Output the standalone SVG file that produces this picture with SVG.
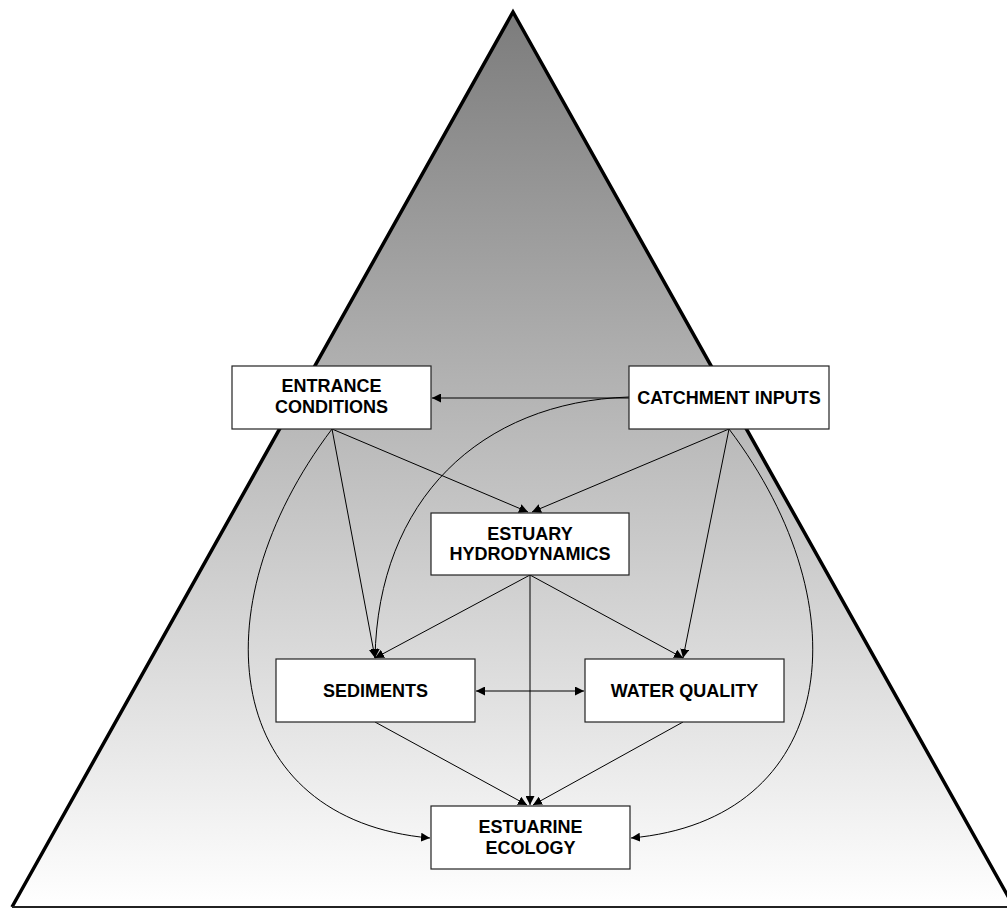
<svg xmlns="http://www.w3.org/2000/svg" width="1007" height="909" viewBox="0 0 1007 909">
<defs>
<linearGradient id="bg" x1="0" y1="12" x2="0" y2="907" gradientUnits="userSpaceOnUse">
<stop offset="0" stop-color="#7c7c7c"/>
<stop offset="1" stop-color="#ffffff"/>
</linearGradient>
<marker id="ah" viewBox="0 0 10 10" refX="10" refY="5" markerWidth="9" markerHeight="9" markerUnits="userSpaceOnUse" orient="auto-start-reverse">
<path d="M0,0 L10,5 L0,10 z" fill="#000"/>
</marker>
<style>
.box{fill:#fff;stroke:#222;stroke-width:1.2}
.lbl{font-family:"Liberation Sans",Arial,sans-serif;font-weight:bold;font-size:18px;fill:#000;text-anchor:middle}
.c{fill:none;stroke:#000;stroke-width:1;marker-end:url(#ah)}
</style>
</defs>
<rect width="1007" height="909" fill="#fff"/>
<g id="triangle">
<polygon points="513,12 12,907 1014,907" fill="url(#bg)"/>
<polyline points="12,907 513,12 1014,907" fill="none" stroke="#000" stroke-width="3.5" stroke-linejoin="miter"/>
<line x1="12" y1="907" x2="1007" y2="907" stroke="#222" stroke-width="2"/>
</g>
<g id="connectors">
<path class="c" d="M629,398 L432,398"/>
<path class="c" d="M629,397 C480,402 378,500 375,658"/>
<path class="c" d="M332,429 L528,512"/>
<path class="c" d="M332,429 L375,658"/>
<path class="c" d="M332,429 C195,610 225,820 430,838"/>
<path class="c" d="M729,429 L532,512"/>
<path class="c" d="M729,429 L683,658"/>
<path class="c" d="M729,429 C866,610 836,820 631,838"/>
<path class="c" d="M530,575 L375,658"/>
<path class="c" d="M530,575 L683,658"/>
<path class="c" d="M530,575 L530,805"/>
<path class="c" d="M375,722 L527,805"/>
<path class="c" d="M683,722 L533,805"/>
<path class="c" d="M476,691 L584,691" style="marker-start:url(#ah)"/>
</g>
<g id="entrance">
<rect class="box" x="232" y="366" width="199" height="63"/>
<text class="lbl" x="331.5" y="391.5">ENTRANCE</text>
<text class="lbl" x="331.5" y="413">CONDITIONS</text>
</g>
<g id="catchment">
<rect class="box" x="629" y="366" width="200" height="63"/>
<text class="lbl" x="729" y="403.5">CATCHMENT INPUTS</text>
</g>
<g id="hydro">
<rect class="box" x="431" y="513" width="198" height="62"/>
<text class="lbl" x="530" y="539.5">ESTUARY</text>
<text class="lbl" x="530" y="560">HYDRODYNAMICS</text>
</g>
<g id="sediments">
<rect class="box" x="276" y="659" width="199" height="63"/>
<text class="lbl" x="375.5" y="697">SEDIMENTS</text>
</g>
<g id="waterquality">
<rect class="box" x="585" y="659" width="199" height="63"/>
<text class="lbl" x="684.5" y="697">WATER QUALITY</text>
</g>
<g id="ecology">
<rect class="box" x="431" y="806" width="199" height="63"/>
<text class="lbl" x="530.5" y="832.5">ESTUARINE</text>
<text class="lbl" x="530.5" y="854">ECOLOGY</text>
</g>
</svg>
